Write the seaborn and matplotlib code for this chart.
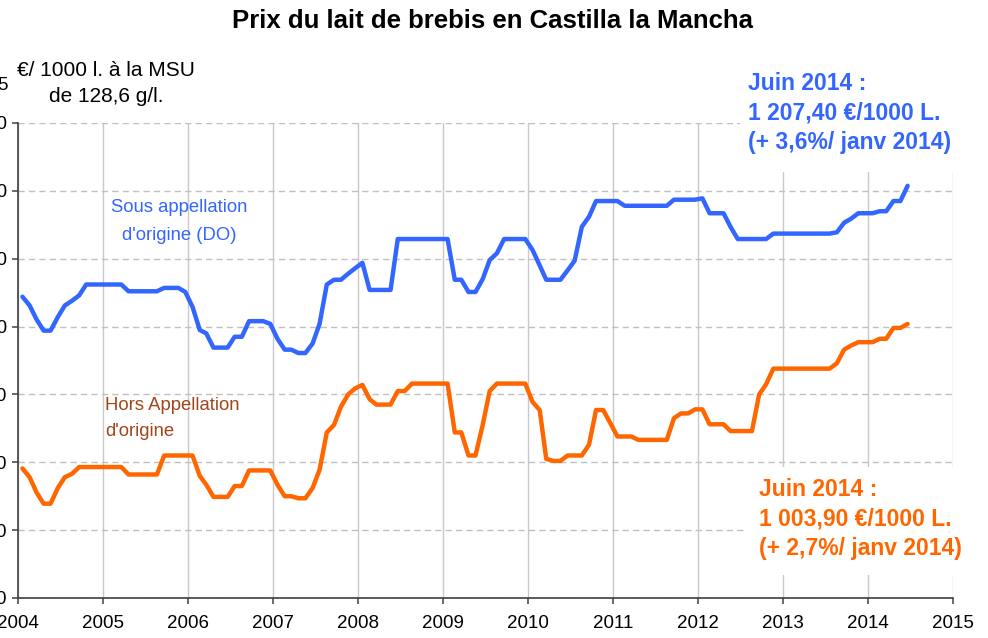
import pandas as pd
import matplotlib.pyplot as plt
import seaborn as sns
from matplotlib.patches import Rectangle

# Prix mensuels (€/1000 l.), janvier 2004 -> juin 2014
mois = pd.date_range("2004-01-01", periods=126, freq="MS") + pd.Timedelta(days=19)

prix_do = [
    1044, 1031, 1011, 994, 994, 1014, 1031, 1038, 1046, 1062, 1062, 1062,
    1062, 1062, 1062, 1052, 1052, 1052, 1052, 1052, 1057, 1057, 1057, 1051,
    1029, 995, 990, 969, 969, 969, 985, 985, 1008, 1008, 1008, 1004,
    982, 966, 966, 961, 961, 975, 1004, 1062, 1069, 1069, 1078, 1086,
    1094, 1054, 1054, 1054, 1054, 1129, 1129, 1129, 1129, 1129, 1129, 1129,
    1129, 1069, 1069, 1051, 1051, 1070, 1098, 1108, 1129, 1129, 1129, 1129,
    1113, 1090, 1069, 1069, 1069, 1083, 1097, 1147, 1162, 1185, 1185, 1185,
    1185, 1178, 1178, 1178, 1178, 1178, 1178, 1178, 1187, 1187, 1187, 1187,
    1189, 1167, 1167, 1167, 1147, 1129, 1129, 1129, 1129, 1129, 1137, 1137,
    1137, 1137, 1137, 1137, 1137, 1137, 1137, 1139, 1153, 1159, 1167, 1167,
    1167, 1170, 1170, 1185, 1185, 1207.4,
]

prix_hors_do = [
    791, 778, 756, 739, 739, 762, 778, 783, 793, 793, 793, 793,
    793, 793, 793, 782, 782, 782, 782, 782, 810, 810, 810, 810,
    810, 780, 767, 749, 749, 749, 765, 765, 788, 788, 788, 788,
    767, 750, 750, 747, 747, 762, 789, 844, 855, 882, 900, 909,
    914, 893, 885, 885, 885, 905, 905, 916, 916, 916, 916, 916,
    916, 844, 844, 810, 810, 855, 905, 916, 916, 916, 916, 916,
    889, 877, 805, 802, 802, 810, 810, 810, 826, 877, 877, 858,
    838, 838, 838, 833, 833, 833, 833, 833, 865, 872, 872, 878,
    878, 856, 856, 856, 846, 846, 846, 846, 900, 915, 938, 938,
    938, 938, 938, 938, 938, 938, 938, 946, 966, 972, 977, 977,
    977, 982, 982, 998, 998, 1003.9,
]

annees = list(range(2004, 2016))
graduations_y = [600, 700, 800, 900, 1000, 1100, 1200, 1300]

BLEU = "#3366FF"
ORANGE = "#FF6600"
BRUN = "#A0461A"

sns.set_theme(style="white")
plt.rcParams["font.family"] = ["Liberation Sans", "DejaVu Sans"]
plt.rcParams["text.color"] = "black"

W, H = 988, 638
fig = plt.figure(figsize=(W / 100, H / 100), dpi=100)
ax = fig.add_axes([18 / W, 1 - 598 / H, 935 / W, 475 / H])

def px(x, y):
    return x / W, 1 - y / H

sns.lineplot(x=mois, y=prix_do, ax=ax, color=BLEU, lw=3.2,
             solid_capstyle="round", solid_joinstyle="round")
sns.lineplot(x=mois, y=prix_hors_do, ax=ax, color=ORANGE, lw=3.2,
             solid_capstyle="round", solid_joinstyle="round")

ax.set_xlim(pd.Timestamp("2004-01-01"), pd.Timestamp("2015-01-01"))
ax.set_xticks([pd.Timestamp(f"{a}-01-01") for a in annees])
ax.set_xticklabels([str(a) for a in annees])
ax.set_ylim(600, 1300)
ax.set_yticks(graduations_y)
ax.set_yticklabels([f"{v:,}".replace(",", " ") for v in graduations_y])
ax.set_xlabel("")
ax.set_ylabel("")

ax.grid(axis="y", color="#C0C0C0", lw=1.0, linestyle=(0, (4.5, 3)))
ax.grid(axis="x", color="#C8C8C8", lw=1.0, linestyle="-")
ax.set_axisbelow(True)
for s in ["top", "right"]:
    ax.spines[s].set_visible(False)
for s in ["left", "bottom"]:
    ax.spines[s].set_color("#404040")
    ax.spines[s].set_linewidth(1.2)
ax.tick_params(axis="both", which="major", direction="out", length=4,
               width=1.1, color="#404040", labelsize=13.5, labelcolor="black")
ax.tick_params(axis="x", pad=8, bottom=True)
ax.tick_params(axis="y", pad=4, left=True)

# Titre et unité
fig.text(*px(492, 21), "Prix du lait de brebis en Castilla la Mancha",
         ha="center", va="center", fontsize=18.5, weight="bold", color="black")
fig.text(*px(106, 70), "€/ 1000 l. à la MSU", ha="center", va="center", fontsize=15, color="black")
fig.text(*px(106, 97), "de 128,6 g/l.", ha="center", va="center", fontsize=15, color="black")
fig.text(*px(8, 86), "5", ha="right", va="center", fontsize=13.5, color="black")

# Légendes des courbes
fig.text(*px(179, 208), "Sous appellation", ha="center", va="center", fontsize=13.3, color=BLEU)
fig.text(*px(179, 236), "d'origine (DO)", ha="center", va="center", fontsize=13.3, color=BLEU)
fig.text(*px(105, 405), "Hors Appellation", ha="left", va="center", fontsize=13.3, color=BRUN)
fig.text(*px(105, 432), "d'origine", ha="left", va="center", fontsize=13.3, color=BRUN)

# Encadrés juin 2014
fig.patches.append(Rectangle(px(740, 172), 235 / W, 110 / H, transform=fig.transFigure,
                             facecolor="white", edgecolor="none", zorder=2))
fig.patches.append(Rectangle(px(747, 575), 240 / W, 108 / H, transform=fig.transFigure,
                             facecolor="white", edgecolor="none", zorder=2))

lignes_do = ["Juin 2014 :", "1 207,40 €/1000 L.", "(+ 3,6%/ janv 2014)"]
lignes_hors = ["Juin 2014 :", "1 003,90 €/1000 L.", "(+ 2,7%/ janv 2014)"]
for i, t in enumerate(lignes_do):
    fig.text(*px(748, 83 + 30 * i), t, ha="left", va="center", fontsize=16.5,
             weight="bold", color=BLEU, zorder=3)
for i, t in enumerate(lignes_hors):
    fig.text(*px(759, 489 + 30 * i), t, ha="left", va="center", fontsize=16.5,
             weight="bold", color=ORANGE, zorder=3)

plt.savefig("out.png", dpi=100)
